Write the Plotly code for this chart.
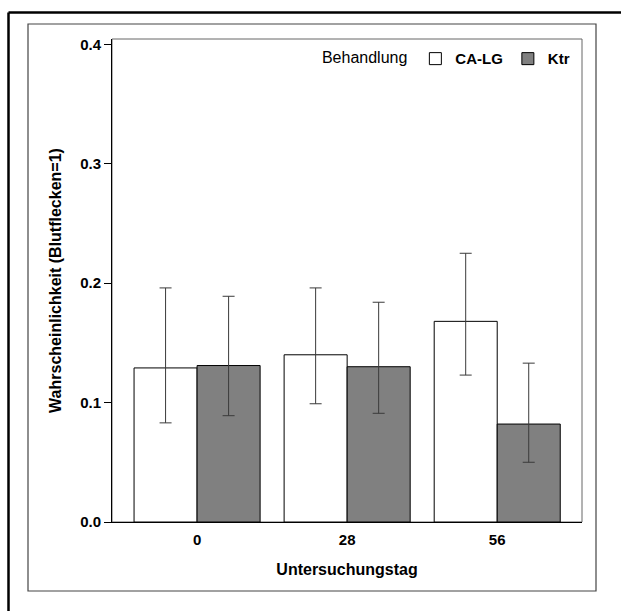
import plotly.graph_objects as go

# ---- data ----
days = ["0", "28", "56"]
ca_lg = [0.129, 0.140, 0.168]
ca_lg_upper = [0.196, 0.196, 0.225]
ca_lg_lower = [0.083, 0.099, 0.123]
ktr = [0.131, 0.130, 0.082]
ktr_upper = [0.189, 0.184, 0.133]
ktr_lower = [0.089, 0.091, 0.050]
y_ticks = [0.0, 0.1, 0.2, 0.3, 0.4]
y_ticktext = ["0.0", "0.1", "0.2", "0.3", "0.4"]

FONT = "Liberation Sans, Arial, sans-serif"
ERR = "#3a3a3a"

def err(vals, up, lo):
    return dict(type="data", symmetric=False,
                array=[u - v for u, v in zip(up, vals)],
                arrayminus=[v - l for v, l in zip(vals, lo)],
                color=ERR, thickness=1, width=6)

fig = go.Figure()
fig.add_trace(go.Bar(x=days, y=ca_lg, name="<b>CA-LG</b>",
                     marker=dict(color="white", line=dict(color="black", width=1)),
                     error_y=err(ca_lg, ca_lg_upper, ca_lg_lower)))
fig.add_trace(go.Bar(x=days, y=ktr, name="<b>Ktr</b>",
                     marker=dict(color="#808080", line=dict(color="black", width=1)),
                     error_y=err(ktr, ktr_upper, ktr_lower)))

L, R, T, B = 112, 39, 39, 89
W, H = 621, 611
pw, ph = W - L - R, H - T - B

def px(x):
    return (x - L) / pw

def py(y):
    return (H - B - y) / ph

shapes = [
    # plot frame
    dict(type="rect", xref="paper", yref="paper", x0=0, x1=1, y0=0, y1=1,
         line=dict(color="#666666", width=1), layer="below"),
    # inner gray frame
    dict(type="rect", xref="paper", yref="paper", x0=px(28), x1=px(596), y0=py(591), y1=py(24),
         line=dict(color="#444444", width=1.2), layer="below"),
    # outer thick black border (left and top)
    dict(type="line", xref="paper", yref="paper", x0=px(8.5), x1=px(8.5), y0=py(12.5), y1=py(640),
         line=dict(color="black", width=2.5)),
    dict(type="line", xref="paper", yref="paper", x0=px(8.5), x1=px(650), y0=py(12.5), y1=py(12.5),
         line=dict(color="black", width=2.5)),
]

fig.update_layout(
    width=W, height=H,
    margin=dict(l=L, r=R, t=T, b=B, pad=0),
    paper_bgcolor="white", plot_bgcolor="white",
    font=dict(family=FONT, size=15, color="black"),
    barmode="group", bargap=0.16, bargroupgap=0,
    showlegend=True,
    legend=dict(orientation="h", x=0.985, xanchor="right", y=0.993, yanchor="top",
                title=dict(text="Behandlung", side="left", font=dict(size=16)),
                font=dict(size=15), bgcolor="rgba(0,0,0,0)", itemwidth=30,
                traceorder="normal"),
    shapes=shapes,
    xaxis=dict(type="category", range=[-0.567, 2.565], showline=True, linecolor="black",
               linewidth=1, ticks="", showgrid=False, zeroline=False,
               ticklabelstandoff=4,
               tickfont=dict(size=15, family=FONT, weight="bold"),
               title=dict(text="<b>Untersuchungstag</b>", font=dict(size=16), standoff=16)),
    yaxis=dict(range=[0, 0.4044], tickvals=y_ticks, ticktext=y_ticktext,
               showline=True, linecolor="black", linewidth=1,
               ticks="outside", ticklen=7, tickcolor="black", showgrid=False, zeroline=False,
               tickfont=dict(size=15, family=FONT, weight="bold"),
               title=dict(text="<b>Wahrscheinlichkeit (Blutflecken=1)</b>", font=dict(size=16),
                          standoff=14)),
)

fig.write_html("out.html", config={"displayModeBar": False},
               post_script="document.body.style.margin='0';")
